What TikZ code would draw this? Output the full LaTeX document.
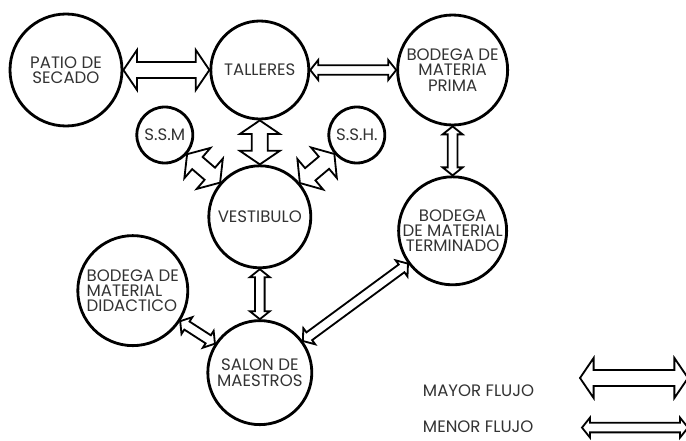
\documentclass[tikz,border=0pt]{standalone}
\usepackage{fontspec}
\setmainfont{Poppins}
\usetikzlibrary{positioning, calc}

% flecha doble de contorno: nodo a, nodo b, media asta, media punta, largo punta
\newcommand{\flujo}[5]{%
    \path (#1) -- (#2) coordinate[pos=0] (f-a) coordinate[pos=1] (f-b);
    \draw[flecha] (f-a)
        -- ($(f-a)!#5!(f-b)!#4!90:(f-b)$)
        -- ($(f-a)!#5!(f-b)!#3!90:(f-b)$)
        -- ($(f-b)!#5!(f-a)!#3!-90:(f-a)$)
        -- ($(f-b)!#5!(f-a)!#4!-90:(f-a)$)
        -- (f-b)
        -- ($(f-b)!#5!(f-a)!#4!90:(f-a)$)
        -- ($(f-b)!#5!(f-a)!#3!90:(f-a)$)
        -- ($(f-a)!#5!(f-b)!#3!-90:(f-b)$)
        -- ($(f-a)!#5!(f-b)!#4!-90:(f-b)$)
        -- cycle;
}
\newcommand{\mayorflujo}[2]{\flujo{#1}{#2}{0.2cm}{0.5cm}{0.34cm}}
\newcommand{\menorflujo}[2]{\flujo{#1}{#2}{0.12cm}{0.25cm}{0.2cm}}

\begin{document}
\begin{tikzpicture}[
    sala/.style={
        circle,
        draw,
        line width=2pt,
        inner sep=-5mm,
        align=center,
        text=black!80,
        font=\fontsize{11.8pt}{10.8pt}\selectfont
    },
    flecha/.style={
        draw,
        fill=white,
        line width=1.3pt,
        line join=miter
    },
    leyenda/.style={
        anchor=base west,
        text=black!80,
        font=\fontsize{11.8pt}{10.8pt}\selectfont
    }
]
    \useasboundingbox (0,0) rectangle (17.15,-11);

    % Fila superior
    \node[sala, minimum size=2.8cm] (patio) at (1.65,-1.75) {PATIO DE\\SECADO};
    \node[sala, minimum size=2.45cm, right=2.15cm of patio] (talleres) {TALLERES};
    \node[sala, minimum size=2.75cm, right=2.15cm of talleres] (prima) {BODEGA DE\\MATERIA\\PRIMA};

    % Servicios
    \node[sala, minimum size=1.4cm] (ssm) at ($(talleres)+(-2.375,-1.625)$) {S.S.M};
    \node[sala, minimum size=1.4cm] (ssh) at ($(talleres)+(2.425,-1.625)$) {S.S.H.};

    % Centro
    \node[sala, minimum size=2.55cm, below=1.1cm of talleres] (vest) {VESTIBULO};
    \node[sala, minimum size=2.7cm, below=1.225cm of prima] (term) {BODEGA\\DE MATERIAL\\TERMINADO};
    \node[sala, minimum size=2.6cm, below=1.25cm of vest] (salon) {SALON DE\\MAESTROS};
    \node[sala, minimum size=2.75cm, align=left] (didactico) at ($(salon)+(-3.175,2.05)$) {BODEGA DE\\MATERIAL\\DIDACTICO};

    % Flujos
    \mayorflujo{patio}{talleres}
    \menorflujo{talleres}{prima}
    \mayorflujo{talleres}{vest}
    \mayorflujo{ssm}{vest}
    \mayorflujo{ssh}{vest}
    \menorflujo{prima}{term}
    \menorflujo{vest}{salon}
    \menorflujo{didactico}{salon}
    \menorflujo{term}{salon}

    % Leyenda
    \node[leyenda] (mayor) at (10.45,-9.9) {MAYOR FLUJO};
    \node[leyenda] (menor) at (10.45,-10.8) {MENOR FLUJO};
    \coordinate (may-a) at (14.5,-9.45);
    \coordinate (may-b) at (17.2,-9.45);
    \mayorflujo{may-a}{may-b}
    \coordinate (men-a) at (14.55,-10.69);
    \coordinate (men-b) at (17.2,-10.69);
    \menorflujo{men-a}{men-b}

\end{tikzpicture}
\end{document}
